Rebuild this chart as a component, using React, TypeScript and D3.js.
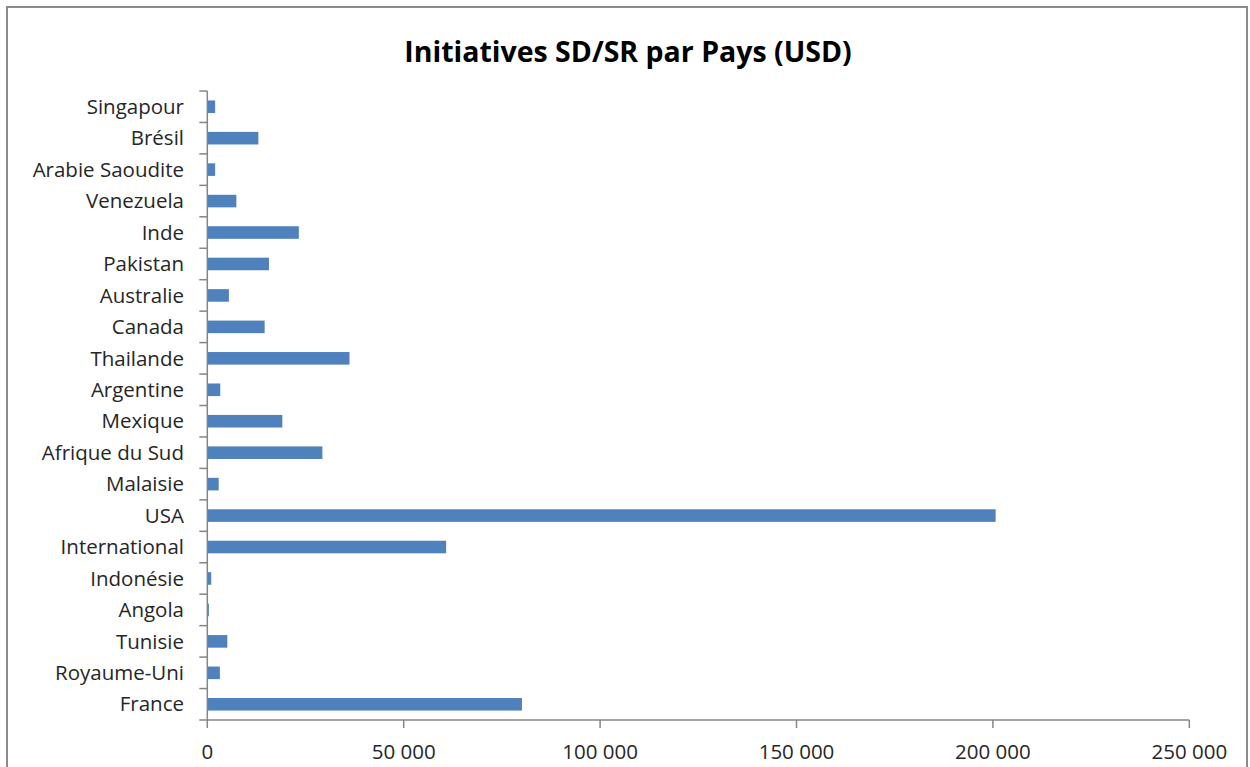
import React from "react";
import * as d3 from "d3";

const categories = [
  "Singapour", "Brésil", "Arabie Saoudite", "Venezuela", "Inde", "Pakistan",
  "Australie", "Canada", "Thailande", "Argentine", "Mexique", "Afrique du Sud",
  "Malaisie", "USA", "International", "Indonésie", "Angola", "Tunisie",
  "Royaume-Uni", "France",
];
const values = [
  2000, 13000, 2000, 7400, 23300, 15700,
  5500, 14600, 36200, 3300, 19100, 29300,
  2900, 200700, 60800, 1000, 400, 5100,
  3200, 80100,
];
const xTicks = [0, 50000, 100000, 150000, 200000, 250000];
const title = "Initiatives SD/SR par Pays (USD)";

const W = 1250, H = 767;
const left = 207.3, right = 1189.3, top = 91, bottom = 720;
const font = "Open Sans, 'Noto Sans', sans-serif";

export default function App() {
  const x = d3.scaleLinear().domain([0, 250000]).range([left, right]);
  const y = d3.scaleBand<string>().domain(categories).range([top, bottom]).paddingInner(0.6).paddingOuter(0.3);
  const bands = d3.scaleBand<string>().domain(categories).range([top, bottom]);
  const fmt = (v: number) => d3.format(",")(v).replace(/,/g, " ");
  const axisColor = "#868686";
  const textColor = "#262626";
  return (
    <svg width={W} height={H} style={{ position: "absolute", left: 0, top: 0, background: "#fff" }}>
      <rect x={0} y={0} width={W} height={H} fill="#fff" />
      <rect x={7} y={7} width={1240} height={780} fill="none" stroke="#8c8c8c" strokeWidth={2} />
      <text x={628} y={62} textAnchor="middle" fontFamily={font} fontWeight="bold" fontSize={28.5} fill="#000">{title}</text>
      {categories.map((c, i) => (
        <rect key={c} x={x(0)} y={y(c)!} width={x(values[i]) - x(0)} height={y.bandwidth()} fill="#4F81BD" />
      ))}
      {/* y axis */}
      <line x1={left} x2={left} y1={top} y2={bottom} stroke={axisColor} strokeWidth={1.5} />
      {categories.map((c) => (
        <line key={"t" + c} x1={left - 8} x2={left} y1={bands(c)!} y2={bands(c)!} stroke={axisColor} strokeWidth={1.5} />
      ))}
      {categories.map((c) => (
        <text key={"l" + c} x={184} y={bands(c)! + bands.bandwidth() / 2} dy="0.35em" textAnchor="end" fontFamily={font} fontSize={20.5} fill={textColor}>{c}</text>
      ))}
      {/* x axis */}
      <line x1={left - 8} x2={right} y1={bottom} y2={bottom} stroke={axisColor} strokeWidth={1.5} />
      {xTicks.map((t) => (
        <line key={"xt" + t} x1={x(t)} x2={x(t)} y1={bottom} y2={bottom + 8} stroke={axisColor} strokeWidth={1.5} />
      ))}
      {xTicks.map((t) => (
        <text key={"xl" + t} x={x(t)} y={752} dy="0.35em" textAnchor="middle" fontFamily={font} fontSize={20.5} fill={textColor}>{fmt(t)}</text>
      ))}
    </svg>
  );
}
